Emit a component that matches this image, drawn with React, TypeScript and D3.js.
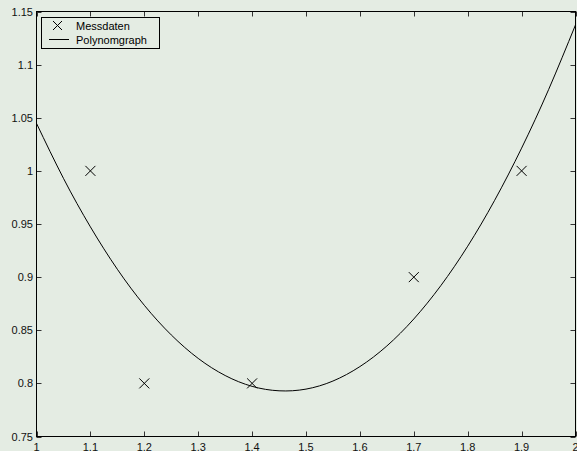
import React from "react";
import * as d3 from "d3";

// Measured points
const measX = [1.1, 1.2, 1.4, 1.7, 1.9];
const measY = [1.0, 0.8, 0.8, 0.9, 1.0];

// Polynomial graph sampled along x
const polyX = [1.0, 1.05, 1.1, 1.15, 1.2, 1.25, 1.3, 1.35, 1.4, 1.45, 1.5, 1.55, 1.6, 1.65, 1.7, 1.75, 1.8, 1.85, 1.9, 1.95, 2.0];
const polyY = [1.0447, 0.993, 0.9473, 0.9074, 0.8735, 0.8456, 0.8235, 0.8074, 0.7972, 0.793, 0.7946, 0.8022, 0.8158, 0.8352, 0.8606, 0.8919, 0.9291, 0.9723, 1.0214, 1.0764, 1.1374];

const xTicks = [1, 1.1, 1.2, 1.3, 1.4, 1.5, 1.6, 1.7, 1.8, 1.9, 2];
const yTicks = [0.75, 0.8, 0.85, 0.9, 0.95, 1, 1.05, 1.1, 1.15];

const legendLabels = ["Messdaten", "Polynomgraph"];

const W = 577;
const H = 451;
const BG = "#e4ece3";
const FONT = "'Liberation Sans', Arial, Helvetica, sans-serif";

export default function App() {
  const x = d3.scaleLinear().domain([1, 2]).range([36.5, 575.5]);
  const y = d3.scaleLinear().domain([0.75, 1.15]).range([436.5, 11.5]);
  const [x0, x1] = x.range();
  const [yb, yt] = y.range();

  const line = d3
    .line<number>()
    .x((_, i) => x(polyX[i]))
    .y((_, i) => y(polyY[i]))
    .curve(d3.curveNatural);

  const tickLen = 5;
  const fmt = (v: number) => String(+v.toFixed(2));
  const ms = 5;

  return (
    <div style={{ position: "fixed", left: 0, top: 0 }}>
      <svg width={W} height={H} style={{ display: "block", background: BG }}>
        <rect x={0} y={0} width={W} height={H} fill={BG} />
        <defs>
          <clipPath id="plot">
            <rect x={x0} y={yt} width={x1 - x0} height={yb - yt} />
          </clipPath>
        </defs>

        {/* ticks on all four sides, pointing inwards */}
        <g stroke="#333" strokeWidth={1}>
          {xTicks.map((t) => {
            const px = Math.round(x(t)) + 0.5;
            return (
              <g key={"xt" + t}>
                <line x1={px} x2={px} y1={yb} y2={yb - tickLen} />
                <line x1={px} x2={px} y1={yt} y2={yt + tickLen} />
              </g>
            );
          })}
          {yTicks.map((t) => {
            const py = Math.round(y(t)) + 0.5;
            return (
              <g key={"yt" + t}>
                <line x1={x0} x2={x0 + tickLen} y1={py} y2={py} />
                <line x1={x1} x2={x1 - tickLen} y1={py} y2={py} />
              </g>
            );
          })}
        </g>

        {/* polynomial curve */}
        <path
          d={line(polyX) || ""}
          fill="none"
          stroke="#000"
          strokeWidth={1}
          clipPath="url(#plot)"
        />

        {/* measured points as crosses */}
        <g stroke="#000" strokeWidth={1}>
          {measX.map((mx, i) => {
            const cx = x(mx);
            const cy = y(measY[i]);
            return (
              <g key={"m" + i}>
                <line x1={cx - ms} y1={cy - ms} x2={cx + ms} y2={cy + ms} />
                <line x1={cx - ms} y1={cy + ms} x2={cx + ms} y2={cy - ms} />
              </g>
            );
          })}
        </g>

        {/* axes box */}
        <rect
          x={x0}
          y={yt}
          width={x1 - x0}
          height={yb - yt}
          fill="none"
          stroke="#000"
          strokeWidth={1}
        />

        {/* tick labels */}
        <g fontFamily={FONT} fontSize={11} fill="#111">
          {xTicks.map((t) => (
            <text key={"xl" + t} x={x(t)} y={451} textAnchor="middle">
              {fmt(t)}
            </text>
          ))}
          {yTicks.map((t) => (
            <text key={"yl" + t} x={33} y={y(t) + 4} textAnchor="end">
              {fmt(t)}
            </text>
          ))}
        </g>

        {/* legend */}
        <g fontFamily={FONT} fontSize={11} fill="#000">
          <rect x={41.5} y={17.5} width={118} height={31} fill={BG} stroke="#000" strokeWidth={1} />
          <g stroke="#000" strokeWidth={1}>
            <line x1={53} y1={21} x2={62} y2={30} />
            <line x1={53} y1={30} x2={62} y2={21} />
          </g>
          <line x1={49} x2={69} y1={39.5} y2={39.5} stroke="#000" strokeWidth={1} />
          <text x={76} y={29.5}>{legendLabels[0]}</text>
          <text x={76} y={43.5}>{legendLabels[1]}</text>
        </g>
      </svg>
    </div>
  );
}
